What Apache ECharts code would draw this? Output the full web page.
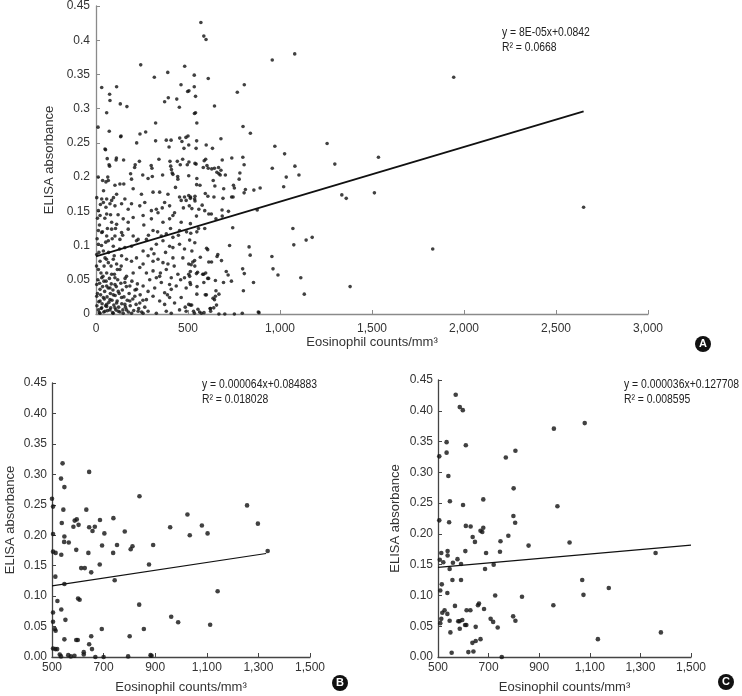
<!DOCTYPE html>
<html><head><meta charset="utf-8">
<script src="https://cdn.jsdelivr.net/npm/echarts@6/dist/echarts.min.js"></script>
<style>html,body{margin:0;padding:0;background:#fff}#c{width:742px;height:696px}</style>
</head><body><div id="c"></div>
<script>
// ---- Data ----
// Panel A, eosinophil counts below 500
const aLow = [
[11,0.273],[31,0.331],[49,0.241],[52,0.240],[58,0.294],[61,0.227],[71,0.218],[74,0.216],[72,0.267],[74,0.321],[76,0.312],[109,0.225],[111,0.228],[112,0.332],[132,0.307],[134,0.259],[136,0.260],[150,0.225],[168,0.303],[188,0.205],[210,0.214],[213,0.218],[221,0.250],[236,0.223],[239,0.263],[243,0.364],[254,0.203],[270,0.266],[300,0.217],[304,0.213],[306,0.201],[317,0.346],[324,0.279],[324,0.253],[342,0.226],[362,0.203],[373,0.310],[382,0.254],[390,0.353],[393,0.316],[397,0.244],[402,0.223],[408,0.254],[406,0.216],[410,0.211],[414,0.206],[418,0.204],[439,0.314],[442,0.223],[444,0.201],[453,0.302],[455,0.257],[458,0.218],[462,0.335],[467,0.252],[471,0.226],[478,0.242],[482,0.362],[489,0.258],[496,0.218],[498,0.325],
[36,0.195],[54,0.193],[67,0.195],[103,0.188],[130,0.190],[151,0.190],[193,0.197],[283,0.198],[445,0.197],
[31,0.168],[58,0.168],[85,0.166],[112,0.175],[157,0.168],[202,0.183],[247,0.175],[310,0.178],[346,0.178],[391,0.175],[454,0.171],[481,0.171],[490,0.166],
[13,0.151],[40,0.163],[54,0.156],[76,0.161],[103,0.158],[139,0.161],[175,0.153],[193,0.161],[238,0.158],[265,0.163],[301,0.151],[328,0.153],[373,0.163],[400,0.158],[427,0.148],[463,0.166],
[22,0.144],[58,0.146],[85,0.134],[112,0.131],[148,0.139],[175,0.134],[202,0.141],[256,0.144],[301,0.139],[337,0.148],[364,0.134],[400,0.139],[418,0.144],[463,0.134],
[13,0.122],[31,0.119],[58,0.114],[85,0.124],[103,0.114],[139,0.119],[175,0.124],[202,0.114],[229,0.109],[274,0.109],[310,0.122],[355,0.114],[382,0.117],[418,0.112],[454,0.122],
[13,0.102],[40,0.092],[67,0.107],[94,0.099],[130,0.109],[157,0.097],[193,0.099],[220,0.107],[256,0.092],[301,0.095],[328,0.102],[364,0.107],[400,0.099],[418,0.097],[454,0.102],[481,0.095],
[4,0.087],[22,0.077],[49,0.082],[67,0.075],[94,0.080],[112,0.073],[139,0.085],[166,0.080],[193,0.077],[220,0.082],[256,0.073],[283,0.085],[310,0.077],[337,0.080],[364,0.075],[391,0.073],[418,0.082],[472,0.082],
[13,0.065],[31,0.053],[58,0.060],[85,0.058],[103,0.053],[130,0.065],[166,0.055],[202,0.060],[238,0.068],[274,0.060],[310,0.063],[328,0.053],[346,0.055],[382,0.065],[409,0.053],[445,0.058],[481,0.053],
[4,0.043],[22,0.036],[43,0.048],[58,0.041],[76,0.038],[103,0.043],[121,0.033],[157,0.046],[184,0.041],[220,0.036],[256,0.041],[283,0.033],[319,0.038],[355,0.046],[373,0.031],[400,0.043],[409,0.036],[436,0.041],[490,0.038],
[4,0.026],[22,0.019],[40,0.024],[58,0.014],[76,0.021],[94,0.028],[112,0.016],[139,0.024],[157,0.014],[184,0.019],[211,0.026],[238,0.016],[274,0.021],[310,0.026],[346,0.019],[373,0.014],[400,0.024],[427,0.016],[463,0.024],
[13,0.006],[22,0.001],[31,0.009],[49,0.004],[58,0.011],[76,0.006],[94,0.001],[103,0.009],[121,0.004],[148,0.001],[166,0.006],[193,0.001],[229,0.004],[256,0.001],[283,0.004],[328,0.001],[382,0.004],[409,0.001],[454,0.006],[490,0.004],
[5,0.012],[8,0.030],[10,0.050],[15,0.018],[18,0.002],[20,0.045],[25,0.028],[28,0.008],[33,0.015],[36,0.040],[38,0.055],[42,0.003],[45,0.022],[47,0.033],[52,0.012],[55,0.048],[60,0.025],[63,0.005],[66,0.038],[70,0.017],[73,0.052],[78,0.030],[80,0.009],[83,0.044],[87,0.020],[90,0.002],[92,0.035],[97,0.013],[100,0.058],[104,0.027],[108,0.006],[110,0.040],[115,0.019],[118,0.050],[123,0.010],[126,0.030],[130,0.003],[135,0.045],[140,0.015],[143,0.035],[146,0.006],[152,0.025],[158,0.052],[160,0.010],[165,0.040],[170,0.020],[176,0.003],[180,0.030],[186,0.012],[195,0.048],[200,0.022],[205,0.005],[212,0.035],[218,0.014],[225,0.044],[232,0.008],[240,0.028],[248,0.003],[255,0.020],[265,0.010],
[3,0.070],[6,0.110],[8,0.140],[4,0.170],[12,0.200],[16,0.090],[19,0.130],[24,0.160],[27,0.060],[30,0.100],[35,0.120],[41,0.180],[44,0.070],[48,0.140],[53,0.105],[57,0.080],[62,0.125],[64,0.200],[68,0.090],[79,0.145],[82,0.070],[88,0.110],[95,0.170],[99,0.085],[106,0.125],[116,0.065],[120,0.145],[128,0.095],[137,0.070],[145,0.115],
[260,0.130],[285,0.115],[292,0.050],[315,0.088],[335,0.120],[350,0.060],[360,0.155],[378,0.090],[388,0.028],[405,0.125],[425,0.070],[432,0.185],[448,0.115],[460,0.050],[475,0.155],[485,0.010],[492,0.120]
];
// Panel A, counts above 1,500
const aHigh = [[1535,0.229],[1513,0.177],[1830,0.095],[1944,0.346],[2650,0.156]];
// Panel B
const bPts = [
[500,0.260],[504,0.247],[504,0.202],[541,0.318],[535,0.293],[548,0.279],[544,0.242],[538,0.220],[548,0.198],[547,0.189],[565,0.188],[583,0.214],[588,0.224],[596,0.226],[603,0.217],[633,0.242],[644,0.304],[644,0.213],[657,0.207],[666,0.214],[686,0.225],[694,0.183],[703,0.203],[738,0.228],[752,0.184],[782,0.206],[805,0.177],[812,0.182],[839,0.264],[892,0.184],[958,0.213],[1025,0.234],[1034,0.200],[1081,0.216],[1103,0.203],[1256,0.249],[1298,0.219],[1336,0.174],[594,0.176],
[504,0.173],[514,0.171],[536,0.168],[641,0.171],[613,0.146],[627,0.146],[652,0.139],[685,0.152],[737,0.171],[743,0.126],[876,0.152],[513,0.132],[548,0.120],[521,0.092],[601,0.096],[607,0.094],[536,0.078],[504,0.073],[552,0.061],[504,0.058],[511,0.046],[514,0.043],[548,0.029],[594,0.028],[600,0.028],[693,0.046],[652,0.034],[644,0.021],[655,0.013],[623,0.008],[623,0.004],[504,0.014],[513,0.013],[520,0.013],[530,0.004],[535,0.001],[563,0.003],[573,0.001],[587,0.002],[668,0.000],[700,0.000],[795,0.001],[801,0.034],[838,0.086],[856,0.046],[882,0.003],[886,0.002],[962,0.066],[989,0.057],[1113,0.053],[1142,0.108]
];
// Panel C
const cPts = [
[570,0.426],[586,0.406],[598,0.401],[534,0.349],[534,0.332],[505,0.326],[610,0.344],[541,0.294],[547,0.253],[505,0.222],[544,0.219],[599,0.247],[610,0.213],[629,0.212],[637,0.195],[646,0.187],[668,0.205],[675,0.203],[679,0.210],[679,0.256],[747,0.188],[768,0.324],[778,0.197],[799,0.274],[798,0.229],[805,0.218],[806,0.335],[858,0.181],[958,0.371],[972,0.245],[1020,0.186],[1080,0.380],
[513,0.169],[538,0.172],[538,0.165],[521,0.154],[507,0.158],[559,0.153],[577,0.159],[591,0.151],[546,0.143],[608,0.172],[690,0.169],[686,0.143],[720,0.150],[745,0.171],[1360,0.169],[557,0.125],[591,0.125],[515,0.118],[509,0.108],[537,0.104],[726,0.100],[832,0.098],[1075,0.101],[1070,0.125],[1175,0.112],[956,0.084],[567,0.083],[517,0.072],[526,0.076],[537,0.070],[613,0.076],[628,0.076],[658,0.084],[662,0.087],[682,0.078],[513,0.062],[509,0.055],[546,0.059],[580,0.058],[585,0.058],[596,0.060],[607,0.052],[612,0.052],[586,0.046],[549,0.040],[649,0.049],[708,0.062],[718,0.057],[736,0.048],[797,0.066],[806,0.059],[668,0.029],[636,0.023],[649,0.026],[620,0.008],[640,0.009],[554,0.007],[752,0.000],[1132,0.029],[1381,0.040]
];
// Trend lines (end points)
const aLine = [[0,0.0842],[2650,0.2962]];
const bLine = [[500,0.1169],[1330,0.1700]];
const cLine = [[500,0.1457],[1500,0.1817]];
// Tick settings
const xTicksA = [0,500,1000,1500,2000,2500,3000];
const xTicksBC = [500,700,900,1100,1300,1500];
const yTicks = [0,0.05,0.10,0.15,0.20,0.25,0.30,0.35,0.40,0.45];
// Annotation texts
const eqA = ['y = 8E-05x+0.0842','R² = 0.0668'];
const eqB = ['y = 0.000064x+0.084883','R² = 0.018028'];
const eqC = ['y = 0.000036x+0.127708','R² = 0.008595'];
const xName = 'Eosinophil counts/mm³';
const yName = 'ELISA absorbance';

const FONT = "'Liberation Sans Narrow','Arial Narrow','Liberation Sans',Arial,sans-serif";
const TXT = '#333';
const fmtComma = v => String(Math.round(v)).replace(/\B(?=(\d{3})+(?!\d))/g, ',');

function xAx(gi, ticks, lineColor, margin, nameGap) {
  return {
    type:'value', gridIndex:gi, min:ticks[0], max:ticks[ticks.length-1], interval:ticks[1]-ticks[0],
    name:xName, nameLocation:'middle', nameGap:nameGap,
    nameTextStyle:{fontFamily:FONT, fontSize:13, color:TXT},
    axisLine:{show:true, onZero:false, lineStyle:{color:lineColor, width:1.3}},
    axisTick:{show:true, inside:true, length:4, lineStyle:{color:lineColor}},
    axisLabel:{fontFamily:FONT, fontSize:12, color:TXT, margin:margin, formatter:fmtComma},
    splitLine:{show:false}
  };
}
function yAx(gi, fmt, lineColor, margin, nameGap) {
  return {
    type:'value', gridIndex:gi, min:yTicks[0], max:yTicks[yTicks.length-1], interval:0.05,
    name:yName, nameLocation:'middle', nameGap:nameGap, nameRotate:90,
    nameTextStyle:{fontFamily:FONT, fontSize:13, color:TXT},
    axisLine:{show:true, onZero:false, lineStyle:{color:lineColor, width:1.3}},
    axisTick:{show:true, inside:true, length:4, lineStyle:{color:lineColor}},
    axisLabel:{fontFamily:FONT, fontSize:12, color:TXT, margin:margin, formatter:fmt},
    splitLine:{show:false}
  };
}
const fmtA = v => String(+v.toFixed(2));
const fmtB = v => v.toFixed(2);

function eqText(lines, x, y) {
  return lines.map((t,i) => ({type:'text', x:x, y:y + i*15, scaleX:0.8,
    style:{text:t, fontFamily:FONT, fontSize:13, fill:'#222'}}));
}
function badge(letter, cx, cy) {
  return [
    {type:'circle', shape:{cx:cx, cy:cy, r:8}, style:{fill:'#111'}},
    {type:'text', x:cx, y:cy, style:{text:letter, fontFamily:'Liberation Sans, Arial, sans-serif', fontWeight:'bold', fontSize:11, fill:'#fff', align:'center', verticalAlign:'middle'}}
  ];
}

const chart = echarts.init(document.getElementById('c'), null, {renderer:'canvas'});
chart.setOption({
  animation:false,
  backgroundColor:'#fff',
  grid:[
    {left:96, top:6, width:552, height:308},
    {left:52, top:383, width:258, height:274},
    {left:438, top:380, width:253, height:277}
  ],
  xAxis:[
    xAx(0, xTicksA, '#8a8a8a', 9, 21),
    xAx(1, xTicksBC, '#444', 5, 24),
    xAx(2, xTicksBC, '#444', 5, 24)
  ],
  yAxis:[
    yAx(0, fmtA, '#8a8a8a', 6, 40),
    yAx(1, fmtB, '#444', 5, 35),
    yAx(2, fmtB, '#444', 5, 36)
  ],
  series:[
    {type:'scatter', xAxisIndex:0, yAxisIndex:0, data:aLow.concat(bPts, cPts, aHigh), symbolSize:3.6, itemStyle:{color:'#111'}, silent:true},
    {type:'line', xAxisIndex:0, yAxisIndex:0, data:aLine, symbol:'none', lineStyle:{color:'#111', width:1.8}, silent:true},
    {type:'scatter', xAxisIndex:1, yAxisIndex:1, data:bPts, symbolSize:4.6, itemStyle:{color:'#111'}, silent:true},
    {type:'line', xAxisIndex:1, yAxisIndex:1, data:bLine, symbol:'none', lineStyle:{color:'#111', width:1.2}, silent:true},
    {type:'scatter', xAxisIndex:2, yAxisIndex:2, data:cPts, symbolSize:4.6, itemStyle:{color:'#111'}, silent:true},
    {type:'line', xAxisIndex:2, yAxisIndex:2, data:cLine, symbol:'none', lineStyle:{color:'#111', width:1.2}, silent:true}
  ],
  graphic:[].concat(
    eqText(eqA, 502, 26),
    eqText(eqB, 202, 378),
    eqText(eqC, 624, 378),
    badge('A', 703, 344),
    badge('B', 340, 683),
    badge('C', 726, 682)
  )
});
</script>
</body></html>
